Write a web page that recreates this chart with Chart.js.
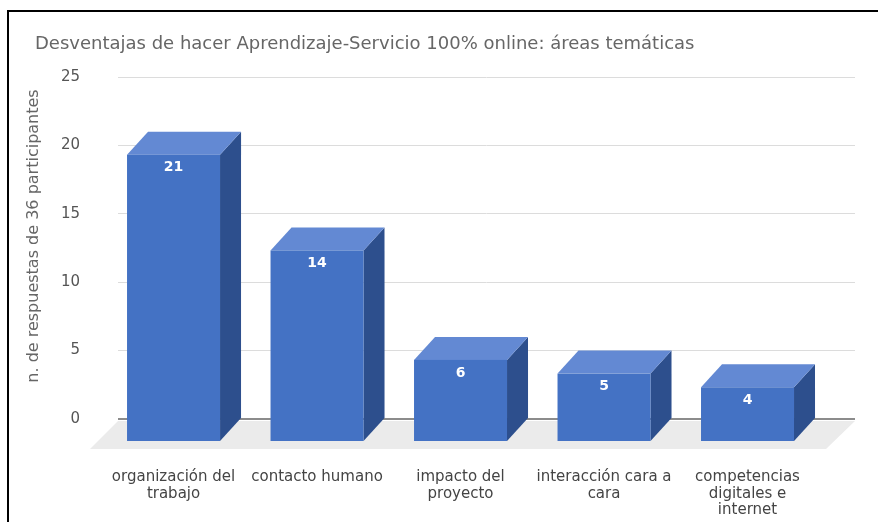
<!DOCTYPE html>
<html>
<head>
<meta charset="utf-8">
<script src="https://cdn.jsdelivr.net/npm/chart.js@4.4.1/dist/chart.umd.min.js"></script>
<style>
  html, body { margin: 0; padding: 0; background: #fff; overflow: hidden; }
  #marco { position: absolute; left: 7px; top: 10px; width: 1000px; height: 700px; border-left: 2px solid #000; border-top: 2px solid #000; }
  #contenedor { position: absolute; left: 0; top: 0; width: 878px; height: 522px; }
</style>
</head>
<body>
<div id="marco"></div>
<div id="contenedor"><canvas id="grafico"></canvas></div>
<script>
// datos
const categorias = [
  ['organización del', 'trabajo'],
  ['contacto humano'],
  ['impacto del', 'proyecto'],
  ['interacción cara a', 'cara'],
  ['competencias', 'digitales e', 'internet']
];
const respuestas = [21, 14, 6, 5, 4];
const ejeY = { min: 0, max: 25, paso: 5 };
const tituloY = 'n. de respuestas de 36 participantes';

const fuente = "'DejaVu Sans', Verdana, sans-serif";
const PROF_X = 21, PROF_Y = 23;   // desplazamiento de la cara frontal
const colores = { frente: '#4472c4', techo: '#6389d3', lado: '#2d4f8d', piso: '#ebebeb' };

Chart.defaults.font.family = fuente;

function poligono(ctx, pts) {
  ctx.beginPath();
  ctx.moveTo(pts[0][0], pts[0][1]);
  pts.slice(1).forEach(p => ctx.lineTo(p[0], p[1]));
  ctx.closePath();
  ctx.fill();
}

const barras3d = {
  id: 'barras3d',
  afterDatasetsDraw(chart) {
    const { ctx, chartArea: a } = chart;
    ctx.save();
    // piso gris
    ctx.fillStyle = colores.piso;
    poligono(ctx, [[a.left, a.bottom + 2], [a.right, a.bottom + 2], [a.right - 29, a.bottom + 30], [a.left - 28, a.bottom + 30]]);

    const meta = chart.getDatasetMeta(0);
    meta.data.forEach((bar, i) => {
      const { x, y, base, width } = bar.getProps(['x', 'y', 'base', 'width'], true);
      const l = x - width / 2, r = x + width / 2;
      const ft = y + PROF_Y, fb = base + PROF_Y;
      ctx.fillStyle = colores.lado;
      poligono(ctx, [[r, ft], [r + PROF_X, y], [r + PROF_X, base], [r, fb]]);
      ctx.fillStyle = colores.techo;
      poligono(ctx, [[l, ft], [l + PROF_X, y], [r + PROF_X, y], [r, ft]]);
      ctx.fillStyle = colores.frente;
      ctx.fillRect(l, ft, width, fb - ft);

      ctx.fillStyle = '#fff';
      ctx.font = 'bold 14px ' + fuente;
      ctx.textAlign = 'center';
      ctx.textBaseline = 'middle';
      ctx.fillText(respuestas[i], x, ft + 13);
    });

    // titulo del eje Y
    ctx.translate(a.left - 84, (a.top + a.bottom) / 2 - 12);
    ctx.rotate(-Math.PI / 2);
    ctx.fillStyle = '#666';
    ctx.font = '16px ' + fuente;
    ctx.textAlign = 'center';
    ctx.textBaseline = 'middle';
    ctx.fillText(tituloY, 0, 0);
    ctx.restore();
  }
};

new Chart(document.getElementById('grafico'), {
  type: 'bar',
  data: {
    datasets: [{
      data: respuestas.map((v, i) => ({ x: i, y: v })),
      backgroundColor: 'rgba(0,0,0,0)',
      barThickness: 93
    }]
  },
  options: {
    responsive: true,
    maintainAspectRatio: false,
    animation: false,
    layout: { padding: { left: 35, right: 23, top: 0, bottom: 0 } },
    plugins: {
      legend: { display: false },
      tooltip: { enabled: false },
      title: {
        display: true,
        text: 'Desventajas de hacer Aprendizaje-Servicio 100% online: áreas temáticas',
        align: 'start',
        color: '#666',
        font: { size: 18, weight: 'normal' },
        padding: { top: 34, bottom: 21.4 }
      }
    },
    scales: {
      x: {
        type: 'linear',
        offset: false,
        min: -0.387,
        max: 4.749,
        grid: { display: false },
        border: { display: false },
        afterBuildTicks: s => { s.ticks = categorias.map((c, i) => ({ value: i })); },
        afterFit: s => { s.height = 103; },
        ticks: {
          autoSkip: false,
          maxRotation: 0,
          padding: 42,
          color: '#444',
          font: { size: 15, lineHeight: 1.1 },
          callback: v => categorias[v] || ''
        }
      },
      y: {
        min: ejeY.min,
        max: ejeY.max,
        afterFit: s => { s.width = 83; },
        border: { display: false },
        grid: {
          drawTicks: false,
          color: c => c.tick && c.tick.value === 0 ? '#8c8c8c' : '#dcdcdc',
          lineWidth: c => c.tick && c.tick.value === 0 ? 2 : 1
        },
        ticks: { stepSize: ejeY.paso, padding: 38, color: '#555', font: { size: 15 } }
      }
    }
  },
  plugins: [barras3d]
});
</script>
</body>
</html>
